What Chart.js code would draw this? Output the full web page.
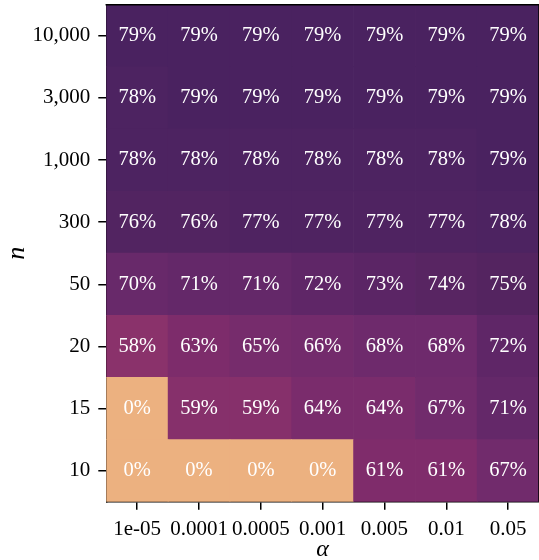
<!DOCTYPE html>
<html>
<head>
<meta charset="utf-8">
<script src="https://cdn.jsdelivr.net/npm/chart.js@4.4.1/dist/chart.umd.min.js"></script>
<style>
  html, body { margin: 0; padding: 0; background: #ffffff; }
  #wrap { width: 539px; height: 560px; position: relative; }
</style>
</head>
<body>
<div id="wrap"><canvas id="c" width="539" height="560"></canvas></div>
<script>
// ---- data ----
const alphaLabels = ['1e-05', '0.0001', '0.0005', '0.001', '0.005', '0.01', '0.05'];
const nLabels = ['10', '15', '20', '50', '300', '1,000', '3,000', '10,000']; // bottom to top
const row10    = [0, 0, 0, 0, 61, 61, 67];
const row15    = [0, 59, 59, 64, 64, 67, 71];
const row20    = [58, 63, 65, 66, 68, 68, 72];
const row50    = [70, 71, 71, 72, 73, 74, 75];
const row300   = [76, 76, 77, 77, 77, 77, 78];
const row1000  = [78, 78, 78, 78, 78, 78, 79];
const row3000  = [78, 79, 79, 79, 79, 79, 79];
const row10000 = [79, 79, 79, 79, 79, 79, 79];
const rows = [row10, row15, row20, row50, row300, row1000, row3000, row10000];

// ---- colour map (value % -> colour) ----
const cmapStops = [
  [0,  [236, 177, 128]],
  [58, [138, 50, 107]],
  [61, [127, 44, 107]],
  [63, [125, 44, 107]],
  [65, [118, 44, 108]],
  [68, [110, 42, 108]],
  [70, [104, 41, 106]],
  [72, [95, 38, 103]],
  [75, [84, 36, 96]],
  [77, [79, 35, 97]],
  [79, [74, 34, 96]]
];
function cmap(v) {
  if (v <= cmapStops[0][0]) return 'rgb(' + cmapStops[0][1].join(',') + ')';
  for (let i = 1; i < cmapStops.length; i++) {
    const [v1, c1] = cmapStops[i];
    const [v0, c0] = cmapStops[i - 1];
    if (v <= v1) {
      const t = (v - v0) / (v1 - v0);
      const c = c0.map((a, k) => Math.round(a + (c1[k] - a) * t));
      return 'rgb(' + c.join(',') + ')';
    }
  }
  return 'rgb(' + cmapStops[cmapStops.length - 1][1].join(',') + ')';
}

const FONT = '"Liberation Serif", "Times New Roman", serif';
Chart.defaults.font.family = FONT;
Chart.defaults.color = '#000';

const datasets = rows.map((vals, r) => ({
  label: nLabels[r],
  data: vals.map(() => [r - 0.5, r + 0.5]),
  backgroundColor: (ctx) => cmap(rows[ctx.datasetIndex][ctx.dataIndex]),
  borderWidth: 0,
  barPercentage: 1,
  categoryPercentage: 1,
  grouped: false
}));

const cellLabels = {
  id: 'cellLabels',
  afterDatasetsDraw(chart) {
    const ctx = chart.ctx;
    const y = chart.scales.y;
    ctx.save();
    ctx.fillStyle = '#ffffff';
    ctx.font = '20.5px ' + FONT;
    ctx.textAlign = 'center';
    ctx.textBaseline = 'middle';
    chart.data.datasets.forEach((ds, r) => {
      const meta = chart.getDatasetMeta(r);
      meta.data.forEach((el, i) => {
        ctx.fillText(rows[r][i] + '%', el.x, y.getPixelForValue(r));
      });
    });
    ctx.restore();
  }
};

const frame = {
  id: 'frame',
  afterDraw(chart) {
    const a = chart.chartArea;
    const ctx = chart.ctx;
    ctx.save();
    ctx.strokeStyle = '#000';
    ctx.lineWidth = 1.5;
    ctx.beginPath();
    ctx.moveTo(a.left - 0.75, a.top);
    ctx.lineTo(a.right, a.top);
    ctx.lineTo(a.right, a.bottom);
    ctx.stroke();
    ctx.restore();
  }
};

new Chart(document.getElementById('c'), {
  type: 'bar',
  data: { labels: alphaLabels, datasets },
  options: {
    responsive: false,
    animation: false,
    devicePixelRatio: 1,
    layout: { padding: { top: 4.7, left: 0, right: -1.5, bottom: 0 } },
    plugins: { legend: { display: false }, tooltip: { enabled: false } },
    scales: {
      x: {
        type: 'category',
        offset: true,
        grid: { display: true, drawOnChartArea: false, drawTicks: true, tickLength: 8, color: '#000', lineWidth: 1.5, offset: false },
        border: { display: true, color: '#000', width: 1.5 },
        ticks: { font: { size: 21 }, color: '#000', padding: 7, maxRotation: 0, autoSkip: false },
        title: { display: true, text: 'α', font: { size: 24, style: 'italic', lineHeight: 0.85 }, color: '#000', padding: { top: 0, bottom: 0 } },
        afterFit(scale) { scale.height = 58.3; scale.paddingLeft = 0; scale.paddingRight = 0; }
      },
      y: {
        type: 'linear',
        min: -0.5,
        max: 7.5,
        afterBuildTicks(scale) { scale.ticks = nLabels.map((_, i) => ({ value: i })); },
        grid: { display: true, drawOnChartArea: false, drawTicks: true, tickLength: 8, color: '#000', lineWidth: 1.5 },
        border: { display: true, color: '#000', width: 1.5 },
        ticks: { font: { size: 21 }, color: '#000', padding: 8, callback: (v) => nLabels[v] },
        title: { display: true, text: 'n', font: { size: 26, style: 'italic', lineHeight: 1 }, color: '#000', padding: { top: 4, bottom: 0 } },
        afterFit(scale) { scale.width = 106.3; scale.paddingTop = 0; scale.paddingBottom = 0; }
      }
    }
  },
  plugins: [cellLabels, frame]
});
</script>
</body>
</html>
